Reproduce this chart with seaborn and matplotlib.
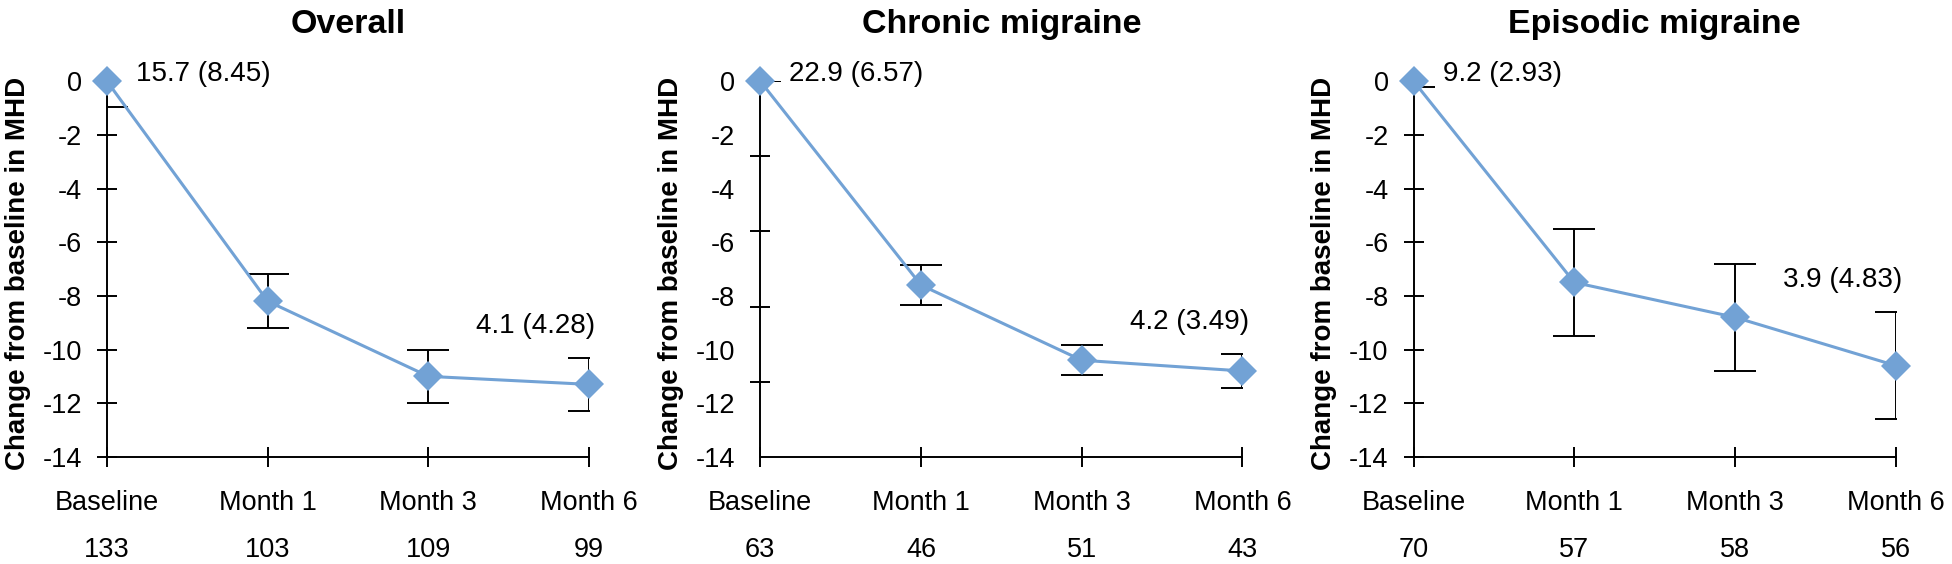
import numpy as np
import pandas as pd
import matplotlib
matplotlib.use("Agg")
import matplotlib.pyplot as plt
import seaborn as sns

sns.set_theme(style="white")
plt.rcParams["font.family"] = ["Liberation Sans", "DejaVu Sans"]
plt.rcParams["axes.unicode_minus"] = False
plt.rcParams["text.color"] = "black"
plt.rcParams["axes.labelcolor"] = "black"

TIMEPOINTS = ["Baseline", "Month 1", "Month 3", "Month 6"]
PANELS = ["Overall", "Chronic migraine", "Episodic migraine"]

# mean change from baseline in MHD and error bar half-widths
CHANGE = {
    "Overall":           [0.0, -8.2, -11.0, -11.3],
    "Chronic migraine":  [0.0, -7.6, -10.4, -10.8],
    "Episodic migraine": [0.0, -7.5, -8.8, -10.6],
}
ERR = {
    "Overall":           [0.95, 1.0, 1.0, 1.0],
    "Chronic migraine":  [0.0, 0.75, 0.55, 0.65],
    "Episodic migraine": [0.2, 2.0, 2.0, 2.0],
}
N_PATIENTS = {
    "Overall":           [133, 103, 109, 99],
    "Chronic migraine":  [63, 46, 51, 43],
    "Episodic migraine": [70, 57, 58, 56],
}
# absolute MHD, mean (SD), at baseline and month 6
MHD_BASELINE = {"Overall": "15.7 (8.45)", "Chronic migraine": "22.9 (6.57)",
                "Episodic migraine": "9.2 (2.93)"}
MHD_MONTH6 = {"Overall": "4.1 (4.28)", "Chronic migraine": "4.2 (3.49)",
              "Episodic migraine": "3.9 (4.83)"}

BLUE = "#72A2D5"


def main():
    fig, axes = plt.subplots(1, 3, figsize=(19.52, 5.64), dpi=100)
    fig.subplots_adjust(left=0.0548, right=0.9712, bottom=0.190, top=0.856, wspace=0.355)

    for ax, panel in zip(axes, PANELS):
        df = pd.DataFrame({"time": TIMEPOINTS, "change": CHANGE[panel],
                           "err": ERR[panel], "n": N_PATIENTS[panel]})
        df["pos"] = np.arange(len(df))

        ax.errorbar(df["pos"], df["change"], yerr=df["err"], fmt="none",
                    ecolor="black", elinewidth=1.4, capsize=15, capthick=1.4,
                    zorder=2)
        sns.lineplot(data=df, x="pos", y="change", color=BLUE, linewidth=2.2,
                     marker="D", markersize=15.5, markeredgewidth=0,
                     ax=ax, zorder=3)
        ax.lines[-1].set_clip_on(False)

        ax.set_xlim(0, len(df) - 1)
        ax.set_ylim(-14, 0)
        ax.set_xticks(df["pos"])
        ax.set_xticklabels([f"{t}\n{n}" for t, n in zip(df["time"], df["n"])],
                           linespacing=2.05, fontsize=19.5)
        ax.set_yticks(np.arange(-14, 1, 2))
        ax.set_yticklabels([f"{v:g}" for v in np.arange(-14, 1, 2)], fontsize=19.5)
        ax.tick_params(axis="both", direction="inout", length=14, width=1.4,
                       colors="black", bottom=True, left=True)
        ax.tick_params(axis="x", pad=17)
        ax.tick_params(axis="y", pad=11)
        if panel == "Chronic migraine":
            ax.tick_params(axis="y", which="major", length=0, pad=18)
            ax.set_yticks(np.linspace(-14, 0, 6), minor=True)
            ax.tick_params(axis="y", which="minor", direction="inout",
                           length=14, width=1.4, left=True, color="black")

        for side in ["top", "right"]:
            ax.spines[side].set_visible(False)
        for side in ["left", "bottom"]:
            ax.spines[side].set_color("black")
            ax.spines[side].set_linewidth(1.4)

        ax.set_xlabel("")
        ax.set_ylabel("Change from baseline in MHD", fontsize=20, fontweight="bold")
        ax.yaxis.set_label_coords(-0.158, 0.487)
        ax.set_title(panel, fontsize=24.5, fontweight="bold", pad=35)

        ax.annotate(MHD_BASELINE[panel], (df["pos"].iloc[0], df["change"].iloc[0]),
                    xytext=(21, 5), textcoords="offset points",
                    ha="left", va="center", fontsize=20)
        top6 = df["change"].iloc[-1] + df["err"].iloc[-1]
        ax.annotate(MHD_MONTH6[panel], (df["pos"].iloc[-1], top6),
                    xytext=(4.5, 23), textcoords="offset points",
                    ha="right", va="center", fontsize=20)

    fig.savefig("out.png", dpi=100)
    plt.close(fig)


if __name__ == "__main__":
    main()
